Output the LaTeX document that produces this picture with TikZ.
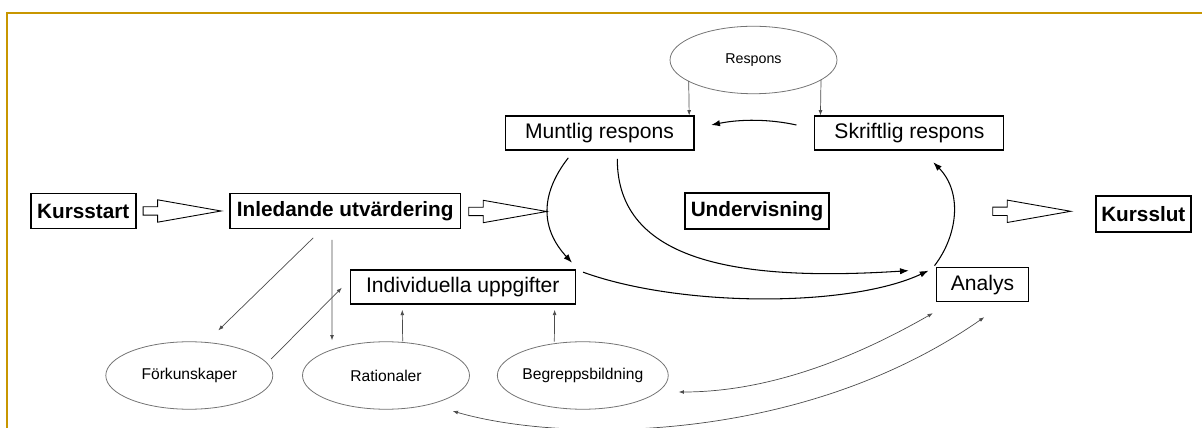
\documentclass[tikz,border=0pt]{standalone}
\usepackage{fontspec}
\setmainfont{Liberation Sans}
\usetikzlibrary{shapes,
                arrows.meta,
                positioning,
                calc}
\definecolor{gold}{RGB}{200,150,0}
\tikzset{boldbox/.style=
   {rectangle,
    draw,
    line width=0.85pt,
    inner sep=0pt,
    minimum height=0.7cm,
    font=\fontsize{11.8}{14}\selectfont\bfseries}}
\tikzset{box/.style=
   {rectangle,
    draw,
    line width=0.6pt,
    inner sep=0pt,
    minimum height=0.68cm,
    font=\fontsize{12}{14}\selectfont}}
\tikzset{topic/.style=
   {ellipse,
    draw=black!55,
    line width=0.45pt,
    inner sep=0pt,
    minimum width=3.34cm,
    minimum height=1.35cm,
    font=\fontsize{8.9}{10}\selectfont}}
\tikzset{blockarrow/.style=
   {single arrow,
    draw,
    line width=0.5pt,
    inner xsep=0pt,
    inner ysep=0.075cm,
    minimum height=1.56cm,
    single arrow head extend=0.14cm,
    single arrow tip angle=20,
    anchor=tail}}
\tikzset{arrow/.style = {draw, line width=0.6pt, -{Latex[length=5pt,width=3.6pt]}}}
\tikzset{thinarrow/.style = {draw=black!70, line width=0.4pt, -{Latex[length=3pt,width=2.2pt]}}}
\tikzset{twoway/.style = {draw=black!70, line width=0.4pt,
    {Latex[length=3pt,width=2.2pt]}-{Latex[length=3pt,width=2.2pt]}}}
\tikzset{goldframe/.style = {draw=gold, line width=1.2pt}}

\begin{document}
\begin{tikzpicture}[x=0.02cm, y=-0.02cm]

    \useasboundingbox (0,0) rectangle (1202,428);
    \draw [goldframe] (7.3,430) -- (7.3,13) -- (1204,13);

    % Place nodes
    \node [boldbox, minimum width=2.1cm] (kursstart) at (83.3,211) {Kursstart};
    \node [boldbox, minimum width=4.61cm, right of=kursstart, node distance=5.24cm] (inledande) {Inledande utvärdering};
    \node [boldbox, minimum width=2.88cm, minimum height=0.72cm] (undervisning) at (757,211) {Undervisning};
    \node [boldbox, minimum width=1.9cm, minimum height=0.72cm] (kursslut) at (1143.3,214) {Kursslut};

    \node [box, minimum width=3.78cm] (muntlig) at (599.5,133) {Muntlig respons};
    \node [box, minimum width=3.78cm, right of=muntlig, node distance=6.2cm] (skriftlig) {Skriftlig respons};
    \node [box, minimum width=4.51cm] (uppgifter) at (462.8,287) {Individuella uppgifter};
    \node [box, minimum width=1.83cm, minimum height=0.69cm] (analys) at (982.5,284.7) {Analys};

    \node [topic, font=\fontsize{8.1}{10}\selectfont] (respons) at (753.5,60) {Respons};
    \node [topic] (forkunskaper) at (189.3,375.5) {Förkunskaper};
    \node [topic] (rationaler) at (386,375.5) {Rationaler};
    \node [topic] (begrepp) at (582.8,375.5) {Begreppsbildning};

    \node [blockarrow] (pil1) at (142.7,211) {};
    \node [blockarrow] (pil2) at (468.3,211.5) {};
    \node [blockarrow] (pil3) at (992.3,211.3) {};

    % Draw edges
    \path [arrow]
    ($(skriftlig.west)+(-18,-8)$)
    .. controls +(-27,-6) and +(29.3,-6) ..
    ($(muntlig.east)+(16.7,-8)$);

    \path [arrow]
    ($(muntlig.south)+(-31.2,7.3)$)
    .. controls +(-29.3,37.7) and +(-30.7,-33.3) ..
    ($(uppgifter.north east)+(-4,-6.7)$);

    \path [arrow]
    ($(muntlig.south)+(17.8,8.3)$)
    .. controls +(-0.3,103.7) and +(-169.3,11) ..
    ($(analys.north west)+(-27.4,3.7)$);

    \path [arrow]
    ($(uppgifter.north east)+(7,2.7)$)
    .. controls +(97.3,35.3) and +(-79,37) ..
    ($(analys.north west)+(-7.7,3.7)$);

    \path [arrow]
    ($(analys.north west)+(-1.7,-1.3)$)
    .. controls +(23,-30) and +(29.7,30.3) ..
    ($(skriftlig.south)+(23.8,11.7)$);

    \path [thinarrow] ($(respons.center)+(-64.8,21)$) -- ($(muntlig.north east)+(-5.3,0)$);
    \path [thinarrow] ($(respons.center)+(67.5,20)$) -- ($(skriftlig.north west)+(6,0)$);

    \path [thinarrow] ($(inledande.south)+(-32,8.6)$) -- ($(forkunskaper.north)+(29,-11)$);
    \path [thinarrow] ($(inledande.south)+(-13.3,10.6)$) -- ($(rationaler.north)+(-54,-1)$);
    \path [thinarrow] ($(forkunskaper.east)+(-2,-16.5)$) -- ($(uppgifter.west)+(-7.7,0.7)$);
    \path [thinarrow] ($(rationaler.north)+(16.7,0)$) -- ($(uppgifter.south west)+(52.7,5.3)$);
    \path [thinarrow] ($(begrepp.north)+(-28.5,0.3)$) -- ($(uppgifter.south east)+(-21.4,5.3)$);

    \path [twoway]
    ($(begrepp.east)+(10,16.5)$)
    .. controls +(79.5,0) and +(-92.2,52.9) ..
    ($(analys.south west)+(-3.4,10.7)$);

    \path [twoway]
    ($(rationaler.south)+(66.7,1.4)$)
    .. controls +(107.3,31.3) and +(-184.3,128.3) ..
    ($(analys.south)+(1.8,14.7)$);

\end{tikzpicture}
\end{document}
